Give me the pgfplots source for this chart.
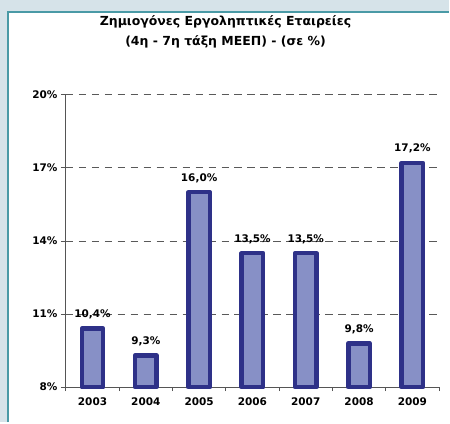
\documentclass[border=0pt]{standalone}
\usepackage{fontspec}
\setmainfont{DejaVu Sans}
\usepackage{pgfplots}
\pgfplotsset{compat=1.18}
\definecolor{bgout}{HTML}{D6E3E9}
\definecolor{frameteal}{HTML}{4A9AA6}
\definecolor{barfill}{HTML}{8790C6}
\definecolor{barline}{HTML}{2E3188}
\definecolor{axgray}{HTML}{555555}
\begin{document}
\begin{tikzpicture}
\fill[bgout] (-66pt,-35pt) rectangle (384pt,388pt);
\fill[white] (-58pt,-35pt) rectangle (384pt,375.5pt);
\draw[frameteal,line width=2pt] (-58pt,-35pt) -- (-58pt,375.5pt) -- (384pt,375.5pt);
\node[font=\bfseries\fontsize{12.5}{20}\selectfont,align=center] at (160pt,356pt) {Ζημιογόνες Εργοληπτικές Εταιρείες\\(4η - 7η τάξη ΜΕΕΠ) - (σε \%)};
\begin{axis}[
  at={(0pt,0pt)}, anchor=south west,
  scale only axis, width=374pt, height=293pt,
  xmin=-0.5, xmax=6.5, ymin=8, ymax=20,
  ytick={8,11,14,17,20},
  yticklabel={\pgfmathprintnumber{\tick}\%},
  /pgf/number format/assume math mode=true,
  xtick={0,...,6},
  xticklabels={2003,2004,2005,2006,2007,2008,2009},
  minor xtick={-0.5,0.5,...,6.5},
  major x tick style={draw=none},
  minor x tick style={draw=axgray, thick},
  minor tick length=4pt,
  major tick length=5pt,
  y tick style={draw=axgray, thick},
  tick align=outside,
  ymajorgrids,
  major grid style={draw=black!65, dash pattern=on 7.5pt off 5.5pt, line width=0.9pt},
  axis x line*=bottom, axis y line*=left,
  axis line style={draw=axgray, thick},
  tick label style={font=\bfseries\fontsize{10.5}{12}\selectfont},
  xticklabel style={yshift=-2pt},
  ybar, bar width=21.5pt,
  nodes near coords={\pgfmathprintnumber[fixed,fixed zerofill,precision=1,use comma]{\pgfplotspointmeta}\%},
  every node near coord/.append style={font=\bfseries\fontsize{10.5}{12}\selectfont, yshift=4pt},
  clip=false,
]
\addplot[fill=barfill, draw=barline, line width=4.5pt, line join=round] coordinates {
(0,10.4) (1,9.3) (2,16.0) (3,13.5) (4,13.5) (5,9.8) (6,17.2)};
\end{axis}
\end{tikzpicture}
\end{document}
